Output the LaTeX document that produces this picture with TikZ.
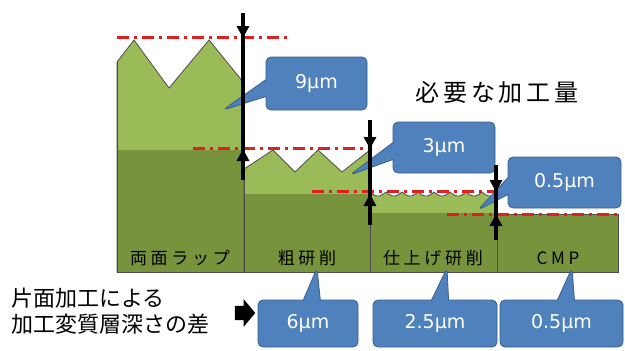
\documentclass[tikz,border=0pt]{standalone}
\usepackage{fontspec}
\setmainfont{DejaVu Sans}
\newfontfamily\jpfont{Noto Sans CJK JP}
\newfontfamily\umfont{DejaVu Sans}
\usetikzlibrary{shapes.callouts, shapes.arrows, arrows.meta}

\definecolor{lightgr}{RGB}{155,187,89}
\definecolor{darkgr}{RGB}{119,147,60}
\definecolor{balloonblue}{RGB}{79,129,189}
\definecolor{balloonedge}{RGB}{56,93,138}
\definecolor{cutred}{RGB}{222,32,32}

\begin{document}
\begin{tikzpicture}[x=1pt, y=-1pt,
        layer/.style={draw=black!70, line width=0.8pt},
        cutline/.style={cutred, line width=3pt, dash pattern=on 12pt off 5pt on 3pt off 5pt},
        gauge/.style={line width=3.4pt},
        gaugetip/.style={-{Triangle[length=12pt, width=12pt]}, line width=3.4pt},
        balloon/.style={rectangle callout, rounded corners=5pt, fill=balloonblue, draw=balloonedge, line width=0.8pt,
            text=white, font=\umfont\fontsize{19}{22}\selectfont, callout pointer width=17pt},
        steplabel/.style={font=\jpfont\fontsize{17}{20}\selectfont\addfontfeatures{LetterSpace=22}},
        jptext/.style={font=\jpfont\fontsize{22}{26}\selectfont, align=left}
    ]
        \useasboundingbox (0,0) rectangle (625,351);

        % Capas
        \fill[lightgr, layer] (117,272) -- (117,62) -- (134,40) -- (169,88) -- (209,40) -- (244,83) -- (244,272) -- cycle;
        \fill[darkgr] (117,150) rectangle (244,272);
        \fill[lightgr, layer] (244,272) -- (244,169) -- (273,150) -- (295,172) -- (318,150) -- (342,172) -- (370,150) -- (370,272) -- cycle;
        \fill[darkgr] (244,194) rectangle (370,272);
        \fill[lightgr] (370,272) -- (370,192) -- plot[domain=0:127, samples=160] ({370+\x}, {192+4*abs(sin(\x*11.25))}) -- (497,272) -- cycle;
        \draw[layer] plot[domain=0:127, samples=160] ({370+\x}, {192+4*abs(sin(\x*11.25))});
        \fill[darkgr] (370,213) rectangle (497,272);
        \fill[darkgr, layer] (497,214) rectangle (618,272);
        \draw[layer] (117,62) -- (117,272) -- (618,272);
        \draw[layer] (244,83) -- (244,272) (370,150) -- (370,272) (497,192) -- (497,272);

        % Niveles
        \draw[cutline] (117,37) -- (290,37);
        \draw[cutline] (193,148) -- (370,148);
        \draw[cutline] (312,191) -- (497,191);
        \draw[cutline] (447,214) -- (618,214);

        % Etiquetas de proceso
        \node[steplabel] (lap) at (180,258) {両面ラップ};
        \node[steplabel] (rough) at (307,258) {粗研削};
        \node[steplabel] (finish) at (433,258) {仕上げ研削};
        \node[steplabel] (cmp) at (558,258) {CMP};

        % Globos
        \node[balloon, minimum width=101pt, minimum height=53pt, callout absolute pointer={(223,110)}] (need9) at (316.5,83.5) {9μm};
        \node[balloon, minimum width=102pt, minimum height=51pt, callout absolute pointer={(350,175)}] (need3) at (444,147.5) {3μm};
        \node[balloon, minimum width=113pt, minimum height=51pt, callout absolute pointer={(478,210)}] (need05) at (564.5,182.5) {0.5μm};
        \node[balloon, minimum width=100pt, minimum height=47pt, callout absolute pointer={(317,268)}] (diff6) at (308,323.5) {6μm};
        \node[balloon, minimum width=124pt, minimum height=47pt, callout absolute pointer={(447,268)}] (diff25) at (435,323.5) {2.5μm};
        \node[balloon, minimum width=123pt, minimum height=47pt, callout absolute pointer={(572,268)}] (diff05) at (561.5,323.5) {0.5μm};

        % Flechas de medida
        \draw[gauge] (243,13) -- (243,180);
        \draw[gaugetip] (243,13) -- (243,38);
        \draw[gaugetip] (243,180) -- (243,149);
        \draw[gauge] (370,120) -- (370,225);
        \draw[gaugetip] (370,120) -- (370,149);
        \draw[gaugetip] (370,225) -- (370,194);
        \draw[gauge] (496,165) -- (496,240);
        \draw[gaugetip] (496,165) -- (496,192);
        \draw[gaugetip] (496,240) -- (496,214);

        % Textos
        \node[font=\jpfont\fontsize{24}{28}\selectfont\addfontfeatures{LetterSpace=16}] (title) at (497,92) {必要な加工量};
        \node[jptext, anchor=west] (note) at (8,311) {片面加工による\\加工変質層深さの差};
        \node[single arrow, fill=black, inner sep=7pt, minimum height=19pt, single arrow head extend=6.5pt, single arrow tip angle=100] (pointer) at (242,313) {};
    \end{tikzpicture}
\end{document}
